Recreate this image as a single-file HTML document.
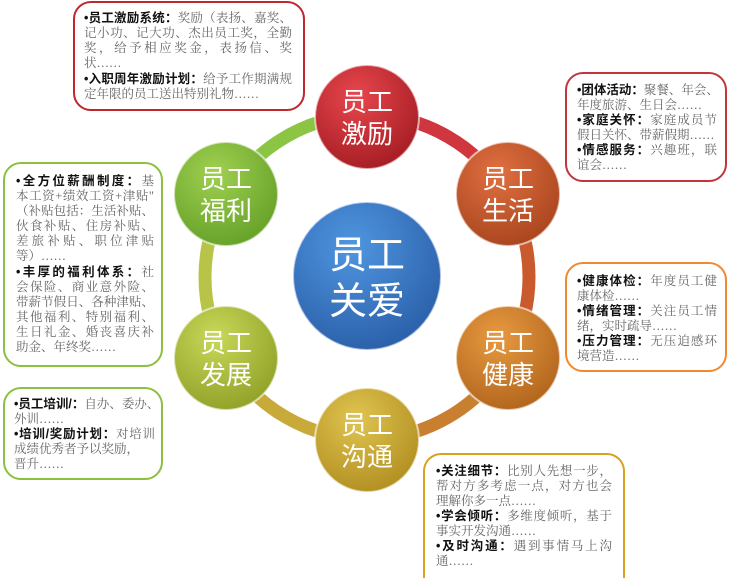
<!DOCTYPE html>
<html><head><meta charset="utf-8"><style>
body{margin:0;width:730px;height:578px;background:#fff;overflow:hidden;position:relative;font-family:"Liberation Serif","Noto Serif CJK SC","Noto Sans CJK SC",serif}
.box{position:absolute;border:2px solid;border-radius:18px;box-sizing:border-box}
.t{position:absolute;font-size:12.5px;line-height:15px;color:#666;white-space:nowrap}
.t div{text-align:justify;text-align-last:justify}
.t div.e{text-align-last:left}
.t b{color:#111;font-family:"Liberation Sans","Noto Sans CJK SC",sans-serif}
.gap{margin-top:1px}
</style></head><body>
<svg width="730" height="578" style="position:absolute;left:0;top:0">
<defs>
<radialGradient id="gr" cx="40%" cy="30%" r="75%"><stop offset="0" stop-color="#e8474d"/><stop offset="1" stop-color="#a31c22"/></radialGradient>
<radialGradient id="gl" cx="40%" cy="30%" r="75%"><stop offset="0" stop-color="#e07040"/><stop offset="1" stop-color="#a8441e"/></radialGradient>
<radialGradient id="gh" cx="40%" cy="30%" r="75%"><stop offset="0" stop-color="#e89a40"/><stop offset="1" stop-color="#b0641c"/></radialGradient>
<radialGradient id="gc" cx="40%" cy="30%" r="75%"><stop offset="0" stop-color="#e0c450"/><stop offset="1" stop-color="#b08e20"/></radialGradient>
<radialGradient id="gd" cx="40%" cy="30%" r="75%"><stop offset="0" stop-color="#c8d858"/><stop offset="1" stop-color="#90a028"/></radialGradient>
<radialGradient id="gw" cx="40%" cy="30%" r="75%"><stop offset="0" stop-color="#a0d050"/><stop offset="1" stop-color="#64a028"/></radialGradient>
<radialGradient id="gb" cx="40%" cy="30%" r="75%"><stop offset="0" stop-color="#4f96e0"/><stop offset="1" stop-color="#2a5ea8"/></radialGradient>
</defs>
<g fill="none" stroke-width="13">
<path d="M367 115 A162 162 0 0 1 507.3 196" stroke="#d0363e"/>
<path d="M507.3 196 A162 162 0 0 1 507.3 358" stroke="#c85a2e"/>
<path d="M507.3 358 A162 162 0 0 1 367 439" stroke="#c88030"/>
<path d="M367 439 A162 162 0 0 1 226.7 358" stroke="#c8aa3a"/>
<path d="M226.7 358 A162 162 0 0 1 226.7 196" stroke="#b8c448"/>
<path d="M226.7 196 A162 162 0 0 1 367 115" stroke="#8cc444"/>
</g>
<g stroke="#fff" stroke-opacity=".6" stroke-width="2">
<circle cx="367" cy="117" r="52" fill="url(#gr)"/>
<circle cx="508" cy="194" r="52" fill="url(#gl)"/>
<circle cx="508" cy="358" r="52" fill="url(#gh)"/>
<circle cx="367" cy="440" r="52" fill="url(#gc)"/>
<circle cx="226" cy="358" r="52" fill="url(#gd)"/>
<circle cx="226" cy="194" r="52" fill="url(#gw)"/>
<circle cx="367" cy="276" r="74" fill="url(#gb)"/>
</g>
<g fill="#fff" font-family="Liberation Sans,Noto Sans CJK SC,sans-serif" font-size="26" text-anchor="middle">
<text x="367" y="111">员工</text><text x="367" y="143">激励</text>
<text x="508" y="188">员工</text><text x="508" y="220">生活</text>
<text x="508" y="352">员工</text><text x="508" y="384">健康</text>
<text x="367" y="434">员工</text><text x="367" y="466">沟通</text>
<text x="226" y="352">员工</text><text x="226" y="384">发展</text>
<text x="226" y="188">员工</text><text x="226" y="220">福利</text>
<text x="367" y="268" font-size="38">员工</text><text x="367" y="314" font-size="38">关爱</text>
</g>
</svg>

<div class="box" style="left:73px;top:1px;width:232px;height:110px;border-color:#c0262c"></div>
<div class="t" style="left:84px;top:11px;width:208px">
<div><b>•员工激励系统：</b>奖励（表扬、嘉奖、</div>
<div>记小功、记大功、杰出员工奖，全勤</div>
<div>奖，给予相应奖金，表扬信、奖</div>
<div class="e">状……</div>
<div class="gap"><b>•入职周年激励计划：</b>给予工作期满规</div>
<div class="e">定年限的员工送出特别礼物……</div>
</div>

<div class="box" style="left:565px;top:72px;width:162px;height:110px;border-color:#c0363c"></div>
<div class="t" style="left:577px;top:83px;width:140px">
<div><b>•团体活动：</b>聚餐、年会、</div>
<div class="e">年度旅游、生日会……</div>
<div><b>•家庭关怀：</b>家庭成员节</div>
<div class="e">假日关怀、带薪假期……</div>
<div><b>•情感服务：</b>兴趣班，联</div>
<div class="e">谊会……</div>
</div>

<div class="box" style="left:565px;top:262px;width:162px;height:110px;border-color:#f08a30"></div>
<div class="t" style="left:577px;top:274px;width:140px">
<div><b>•健康体检：</b>年度员工健</div>
<div class="e">康体检……</div>
<div><b>•情绪管理：</b>关注员工情</div>
<div class="e">绪，实时疏导……</div>
<div><b>•压力管理：</b>无压迫感环</div>
<div class="e">境营造……</div>
</div>

<div class="box" style="left:3px;top:162px;width:160px;height:205px;border-color:#8cc040"></div>
<div class="t" style="left:16px;top:174px;width:138px">
<div><b>•全方位薪酬制度：</b>基</div>
<div>本工资+绩效工资+津贴"</div>
<div>（补贴包括：生活补贴、</div>
<div>伙食补贴、住房补贴、</div>
<div>差旅补贴、职位津贴</div>
<div class="e">等）……</div>
<div class="gap"><b>•丰厚的福利体系：</b>社</div>
<div>会保险、商业意外险、</div>
<div>带薪节假日、各种津贴、</div>
<div>其他福利、特别福利、</div>
<div>生日礼金、婚丧喜庆补</div>
<div class="e">助金、年终奖……</div>
</div>

<div class="box" style="left:3px;top:387px;width:160px;height:93px;border-color:#8cc040"></div>
<div class="t" style="left:14px;top:397px;width:141px">
<div><b>•员工培训/：</b>自办、委办、</div>
<div class="e">外训……</div>
<div><b>•培训/奖励计划：</b>对培训</div>
<div class="e">成绩优秀者予以奖励，</div>
<div class="e">晋升……</div>
</div>

<div class="box" style="left:423px;top:453px;width:202px;height:125px;border-color:#d8a020;border-bottom:none;border-radius:18px 18px 0 0"></div>
<div class="t" style="left:436px;top:464px;width:176px">
<div><b>•关注细节：</b>比别人先想一步，</div>
<div>帮对方多考虑一点，对方也会</div>
<div class="e">理解你多一点……</div>
<div><b>•学会倾听：</b>多维度倾听，基于</div>
<div class="e">事实开发沟通……</div>
<div><b>•及时沟通：</b>遇到事情马上沟</div>
<div class="e">通……</div>
</div>
</body></html>
